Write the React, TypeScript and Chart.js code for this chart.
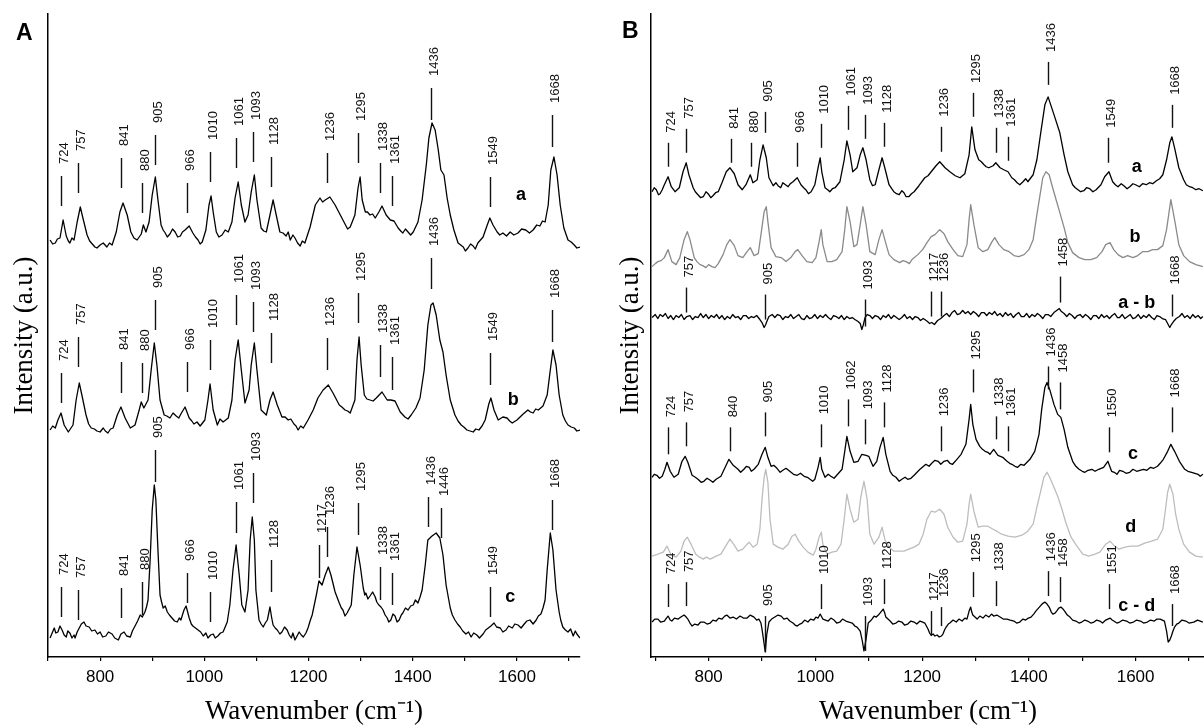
import React, { useEffect, useRef } from "react";
import { Chart, registerables } from "chart.js";
Chart.register(...registerables);

type Pt = [number, number];
type Peak = [string, number, number] | [string, number, number, number];
type Tag = [string, number, number];

// x-axis ticks (cm-1)
const majorTicks = [800, 1000, 1200, 1400, 1600];
const minorTicks = [700, 800, 900, 1000, 1100, 1200, 1300, 1400, 1500, 1600, 1700];

// ---------- Panel A spectra [wavenumber, intensity] ----------
const specA_a: Pt[] = [[704,417],[709,413],[714,414],[718,418],[723,419],[729,437],[735,421],[739,416],[742,414],[746,419],[750,417],[756,435],[762,450],[767,439],[775,422],[780,416],[785,413],[790,410],[794,409],[800,412],[806,414],[813,410],[818,414],[823,412],[831,425],[838,445],[844,454],[852,442],[859,425],[865,419],[871,417],[879,423],[883,432],[888,425],[894,435],[900,462],[906,480],[911,457],[917,432],[921,427],[925,424],[929,420],[934,423],[939,428],[944,425],[949,420],[954,421],[958,425],[963,427],[971,431],[978,424],[983,420],[988,417],[992,413],[996,415],[1003,427],[1009,452],[1013,461],[1017,445],[1023,425],[1028,420],[1034,422],[1040,427],[1046,425],[1053,435],[1059,459],[1065,475],[1071,452],[1078,435],[1084,442],[1090,465],[1096,482],[1101,457],[1109,429],[1114,426],[1119,425],[1126,442],[1132,457],[1138,442],[1145,425],[1151,424],[1157,421],[1161,425],[1165,417],[1170,422],[1174,419],[1179,414],[1184,411],[1188,416],[1193,414],[1203,430],[1213,452],[1222,459],[1227,455],[1232,457],[1241,460],[1251,452],[1261,442],[1266,437],[1270,433],[1275,428],[1280,430],[1289,442],[1295,469],[1299,480],[1303,457],[1309,445],[1313,445],[1318,442],[1323,443],[1328,439],[1335,445],[1341,451],[1349,442],[1357,437],[1364,436],[1372,429],[1377,426],[1381,424],[1386,428],[1391,425],[1396,422],[1401,425],[1410,435],[1418,457],[1426,492],[1431,519],[1437,534],[1443,527],[1449,507],[1454,487],[1460,482],[1466,459],[1472,442],[1479,427],[1487,414],[1492,412],[1497,410],[1501,406],[1506,409],[1511,413],[1516,411],[1520,408],[1525,414],[1535,420],[1543,432],[1548,439],[1554,432],[1562,425],[1567,422],[1573,424],[1580,421],[1587,425],[1594,422],[1602,424],[1609,428],[1617,427],[1624,424],[1631,427],[1638,432],[1644,431],[1649,436],[1654,435],[1660,452],[1665,487],[1671,500],[1677,482],[1683,452],[1690,429],[1698,417],[1704,415],[1710,412],[1715,409],[1721,410]];

const specA_b: Pt[] = [[704,227],[709,231],[714,229],[719,237],[725,244],[731,232],[739,225],[748,232],[754,257],[760,274],[765,262],[773,242],[778,233],[783,229],[789,228],[794,226],[800,225],[806,229],[810,226],[815,224],[820,228],[825,229],[833,242],[840,250],[848,239],[858,229],[867,232],[875,247],[879,255],[884,249],[892,257],[898,287],[904,314],[909,292],[915,257],[923,242],[928,241],[934,239],[940,244],[946,241],[951,239],[955,243],[963,250],[971,239],[976,236],[980,233],[986,235],[992,231],[1001,237],[1007,257],[1011,273],[1017,247],[1025,232],[1030,238],[1036,235],[1046,239],[1053,257],[1059,297],[1065,317],[1071,287],[1078,254],[1086,267],[1090,292],[1096,314],[1101,287],[1109,247],[1119,242],[1126,257],[1132,265],[1140,252],[1149,240],[1155,240],[1161,237],[1166,238],[1172,233],[1176,231],[1180,227],[1185,231],[1190,229],[1199,237],[1209,247],[1218,259],[1228,267],[1238,272],[1247,264],[1253,258],[1259,252],[1264,250],[1270,247],[1275,246],[1280,244],[1289,257],[1293,297],[1297,320],[1301,292],[1307,262],[1312,258],[1318,257],[1324,256],[1330,259],[1341,265],[1351,257],[1358,257],[1366,256],[1376,245],[1385,240],[1391,238],[1397,242],[1406,249],[1414,259],[1422,287],[1429,332],[1435,352],[1439,354],[1445,342],[1452,317],[1458,305],[1464,282],[1472,257],[1481,242],[1487,236],[1493,232],[1498,230],[1504,227],[1510,226],[1516,225],[1521,228],[1527,227],[1533,231],[1539,237],[1546,253],[1550,259],[1556,247],[1564,237],[1573,240],[1581,239],[1586,236],[1591,234],[1600,237],[1606,240],[1612,243],[1621,247],[1626,245],[1631,244],[1636,248],[1641,247],[1650,251],[1658,262],[1664,287],[1669,307],[1675,292],[1681,262],[1688,242],[1693,236],[1698,232],[1704,230],[1710,229],[1715,226],[1721,227]];

const specA_c: Pt[] = [[704,19],[708,24],[712,29],[715,24],[719,25],[723,31],[727,27],[731,22],[735,20],[738,26],[742,24],[746,19],[750,22],[752,19],[756,25],[760,29],[764,33],[769,35],[773,31],[779,30],[784,26],[790,27],[795,23],[800,25],[805,20],[811,21],[816,25],[823,23],[828,19],[835,17],[840,23],[846,25],[851,21],[858,20],[862,26],[867,31],[872,36],[877,42],[881,40],[886,45],[889,50],[892,57],[896,97],[900,147],[904,172],[907,157],[911,107],[915,62],[918,55],[921,49],[925,51],[929,45],[933,42],[938,39],[943,36],[948,35],[952,39],[955,37],[958,42],[961,47],[965,51],[968,45],[971,39],[975,33],[978,31],[983,29],[988,27],[993,25],[998,21],[1003,24],[1007,19],[1012,22],[1017,23],[1021,19],[1026,21],[1031,24],[1036,25],[1040,30],[1044,35],[1049,52],[1055,87],[1061,112],[1067,82],[1072,52],[1078,45],[1084,67],[1088,117],[1092,140],[1096,117],[1099,67],[1105,37],[1109,33],[1113,30],[1117,34],[1121,37],[1126,50],[1129,40],[1132,32],[1136,29],[1140,27],[1145,23],[1149,25],[1154,30],[1159,27],[1163,22],[1167,19],[1170,24],[1174,17],[1178,21],[1182,25],[1186,22],[1190,20],[1195,24],[1199,29],[1203,36],[1207,42],[1215,62],[1220,76],[1226,72],[1232,82],[1238,90],[1243,82],[1251,65],[1259,54],[1263,49],[1266,47],[1270,41],[1274,44],[1278,48],[1282,52],[1287,82],[1293,110],[1299,92],[1305,69],[1308,62],[1310,64],[1314,58],[1318,61],[1323,65],[1328,60],[1331,55],[1335,52],[1339,50],[1343,47],[1347,42],[1351,39],[1354,35],[1358,37],[1362,43],[1366,41],[1370,35],[1374,37],[1378,42],[1381,44],[1386,49],[1391,47],[1396,51],[1401,52],[1405,57],[1410,54],[1414,60],[1418,67],[1424,92],[1429,117],[1437,121],[1445,124],[1452,119],[1458,102],[1464,72],[1472,49],[1476,42],[1481,37],[1486,33],[1491,30],[1496,26],[1502,23],[1507,25],[1512,20],[1517,24],[1523,22],[1528,19],[1535,23],[1540,27],[1545,29],[1550,31],[1556,34],[1561,30],[1568,29],[1573,25],[1579,27],[1584,31],[1591,29],[1596,33],[1602,32],[1608,29],[1614,33],[1619,36],[1625,37],[1631,33],[1637,37],[1641,41],[1646,43],[1650,49],[1654,57],[1658,87],[1664,124],[1669,107],[1675,67],[1681,45],[1684,37],[1688,30],[1693,27],[1698,25],[1703,28],[1708,21],[1712,26],[1715,23],[1721,19]];

// ---------- Panel B spectra ----------
const specB_a: Pt[] = [[694,466],[698,470],[702,468],[706,463],[709,464],[713,468],[717,473],[724,481],[730,471],[737,466],[745,470],[752,486],[758,495],[763,483],[771,470],[775,466],[780,463],[785,460],[790,461],[795,466],[799,464],[804,460],[808,462],[813,465],[818,466],[825,475],[833,486],[840,490],[848,484],[855,473],[863,468],[870,473],[878,483],[883,475],[891,478],[896,498],[902,513],[908,500],[913,480],[921,472],[926,475],[930,472],[935,470],[939,475],[944,473],[949,471],[953,474],[958,476],[966,480],[973,473],[978,470],[982,468],[987,464],[992,466],[999,473],[1005,490],[1009,500],[1012,486],[1018,470],[1023,468],[1027,466],[1032,469],[1037,470],[1046,476],[1054,498],[1059,517],[1065,503],[1070,486],[1078,490],[1084,503],[1089,510],[1095,498],[1102,478],[1107,472],[1112,473],[1119,488],[1125,500],[1130,490],[1138,473],[1143,469],[1147,466],[1152,464],[1157,463],[1162,467],[1166,465],[1170,461],[1175,461],[1180,464],[1185,466],[1194,472],[1205,480],[1211,482],[1217,486],[1226,492],[1233,496],[1238,493],[1243,490],[1252,486],[1257,484],[1262,482],[1271,480],[1280,484],[1288,503],[1293,531],[1299,508],[1306,498],[1311,496],[1316,493],[1320,491],[1325,490],[1333,492],[1338,495],[1346,490],[1353,488],[1361,486],[1368,480],[1373,478],[1378,475],[1383,473],[1389,476],[1394,479],[1398,476],[1408,483],[1415,498],[1423,528],[1430,553],[1436,561],[1441,553],[1449,540],[1458,525],[1466,503],[1473,486],[1482,473],[1487,470],[1492,468],[1497,466],[1503,467],[1508,470],[1514,469],[1520,466],[1526,468],[1535,473],[1542,481],[1550,486],[1557,476],[1562,473],[1567,471],[1573,474],[1578,472],[1584,469],[1589,471],[1595,474],[1600,473],[1607,471],[1613,474],[1620,473],[1626,475],[1632,474],[1639,477],[1645,479],[1651,483],[1658,498],[1664,515],[1668,521],[1673,510],[1681,490],[1690,478],[1695,473],[1701,471],[1707,470],[1713,468],[1719,469],[1726,467]];

const specB_b: Pt[] = [[694,391],[700,394],[705,396],[711,397],[717,400],[724,408],[731,396],[739,393],[746,400],[754,418],[760,426],[765,418],[773,400],[778,396],[784,393],[789,392],[795,390],[800,393],[806,391],[812,390],[818,394],[827,403],[834,413],[840,418],[848,412],[855,402],[864,400],[872,406],[878,410],[885,402],[893,404],[898,423],[904,446],[908,451],[911,436],[917,410],[926,401],[936,400],[945,396],[954,400],[962,406],[967,408],[975,402],[984,396],[994,395],[1001,400],[1007,416],[1011,428],[1014,413],[1022,396],[1031,396],[1040,398],[1050,406],[1055,428],[1059,451],[1065,436],[1072,411],[1078,413],[1084,433],[1089,451],[1095,433],[1102,406],[1112,403],[1119,418],[1125,428],[1130,418],[1138,403],[1147,398],[1158,395],[1164,397],[1170,396],[1176,394],[1181,398],[1192,403],[1201,408],[1209,415],[1217,421],[1224,423],[1233,428],[1241,424],[1248,416],[1258,408],[1267,402],[1276,401],[1284,413],[1288,438],[1291,453],[1297,433],[1305,410],[1314,406],[1323,408],[1331,416],[1336,420],[1344,413],[1353,408],[1363,406],[1372,402],[1381,401],[1391,403],[1400,408],[1408,418],[1415,443],[1421,463],[1426,480],[1432,486],[1438,483],[1443,473],[1451,458],[1458,445],[1466,430],[1473,415],[1482,405],[1494,400],[1505,398],[1516,398],[1527,400],[1537,406],[1544,413],[1552,415],[1559,408],[1567,403],[1576,400],[1585,402],[1595,400],[1604,402],[1613,406],[1623,406],[1632,408],[1641,408],[1651,412],[1658,428],[1666,458],[1673,438],[1681,413],[1690,402],[1701,396],[1713,393],[1726,391]];

const specB_ab: Pt[] = [[694,340],[700,343],[705,339],[709,343],[714,341],[719,344],[724,339],[729,342],[734,338],[739,342],[744,340],[749,343],[754,338],[759,341],[765,342],[770,338],[775,341],[780,340],[785,344],[790,340],[795,343],[800,339],[805,342],[810,340],[815,343],[820,339],[825,342],[830,338],[835,341],[840,339],[845,343],[850,340],[855,341],[860,338],[865,342],[870,342],[875,339],[880,341],[885,340],[890,342],[896,338],[900,335],[904,330],[907,333],[909,336],[913,341],[919,343],[924,340],[929,343],[934,342],[939,338],[944,341],[949,340],[954,343],[959,339],[964,341],[969,343],[974,339],[979,338],[984,342],[989,339],[994,340],[999,343],[1004,339],[1009,342],[1014,340],[1019,343],[1024,340],[1029,338],[1034,342],[1039,341],[1044,339],[1049,342],[1054,338],[1059,341],[1064,339],[1069,340],[1074,338],[1080,336],[1084,334],[1087,328],[1090,333],[1093,340],[1097,343],[1102,342],[1107,339],[1112,342],[1117,341],[1122,338],[1127,342],[1132,340],[1137,343],[1142,339],[1147,342],[1152,340],[1157,338],[1162,340],[1167,343],[1172,339],[1177,341],[1182,338],[1187,341],[1192,340],[1197,337],[1202,339],[1205,338],[1210,336],[1214,334],[1218,335],[1223,333],[1229,337],[1235,339],[1241,342],[1246,344],[1251,341],[1256,345],[1261,347],[1266,343],[1271,344],[1276,347],[1281,344],[1286,346],[1291,343],[1296,346],[1301,344],[1306,341],[1311,345],[1316,345],[1321,342],[1326,345],[1331,343],[1336,346],[1341,342],[1346,344],[1351,341],[1356,345],[1361,342],[1366,344],[1371,340],[1376,343],[1381,345],[1386,341],[1391,341],[1396,344],[1401,340],[1406,343],[1411,341],[1416,344],[1421,342],[1426,339],[1431,343],[1436,343],[1441,341],[1447,345],[1452,347],[1457,349],[1461,346],[1466,344],[1471,341],[1476,344],[1481,342],[1486,339],[1491,342],[1496,343],[1501,340],[1506,343],[1511,341],[1516,338],[1521,342],[1526,342],[1531,339],[1536,343],[1541,340],[1546,342],[1551,339],[1556,342],[1561,344],[1566,340],[1570,340],[1575,343],[1580,339],[1585,341],[1590,343],[1595,339],[1600,340],[1605,343],[1610,339],[1615,342],[1620,340],[1625,343],[1630,340],[1635,338],[1640,342],[1645,341],[1650,339],[1656,338],[1660,334],[1664,330],[1667,333],[1671,336],[1676,339],[1682,341],[1687,344],[1692,340],[1697,342],[1702,339],[1707,343],[1712,340],[1717,342],[1722,339],[1726,341]];

const specB_c: Pt[] = [[694,180],[698,183],[703,182],[708,179],[713,181],[718,188],[722,195],[728,186],[735,180],[743,183],[750,196],[756,201],[761,195],[769,182],[775,180],[780,178],[786,175],[791,176],[797,179],[803,177],[808,175],[814,178],[823,181],[831,190],[838,198],[846,192],[855,188],[860,185],[866,188],[871,191],[876,190],[880,186],[885,188],[893,193],[900,203],[906,210],[911,200],[917,191],[922,192],[928,189],[934,185],[939,187],[945,189],[952,186],[959,183],[966,182],[972,184],[979,181],[985,180],[990,178],[995,176],[999,178],[1005,190],[1009,200],[1012,188],[1018,180],[1024,183],[1029,181],[1035,179],[1040,182],[1050,188],[1055,206],[1059,221],[1065,206],[1072,195],[1080,196],[1087,203],[1095,202],[1100,201],[1108,191],[1115,196],[1121,210],[1127,220],[1132,203],[1140,186],[1145,182],[1151,180],[1157,176],[1162,178],[1168,180],[1173,178],[1179,179],[1185,182],[1196,188],[1207,193],[1213,191],[1218,194],[1224,197],[1230,196],[1235,193],[1241,196],[1247,197],[1252,194],[1257,193],[1262,196],[1273,203],[1282,213],[1288,238],[1291,253],[1295,233],[1301,218],[1308,211],[1313,208],[1318,206],[1323,205],[1327,203],[1334,208],[1342,202],[1351,200],[1359,196],[1364,194],[1368,193],[1374,191],[1379,190],[1385,193],[1391,192],[1402,198],[1411,206],[1419,223],[1424,248],[1430,270],[1434,275],[1439,268],[1447,253],[1454,243],[1460,240],[1466,228],[1473,210],[1482,196],[1488,191],[1494,188],[1500,186],[1505,185],[1511,187],[1518,188],[1524,186],[1531,188],[1540,190],[1548,196],[1555,186],[1560,185],[1565,183],[1570,187],[1576,186],[1582,184],[1589,185],[1595,188],[1602,186],[1608,187],[1615,188],[1621,187],[1628,190],[1634,189],[1641,191],[1646,194],[1652,198],[1660,206],[1666,213],[1673,206],[1682,196],[1692,188],[1698,186],[1705,185],[1711,184],[1717,183],[1721,181],[1726,183]];

const specB_d: Pt[] = [[694,101],[705,103],[715,105],[722,111],[730,102],[739,100],[748,106],[754,116],[760,120],[767,113],[776,103],[783,100],[790,98],[796,100],[803,98],[814,101],[823,103],[833,112],[840,118],[848,112],[855,106],[864,108],[872,113],[876,115],[883,110],[891,113],[896,128],[900,158],[904,180],[907,188],[911,175],[915,138],[921,113],[930,110],[939,108],[949,113],[956,121],[962,123],[969,116],[977,110],[986,105],[996,102],[1001,108],[1007,120],[1011,125],[1014,113],[1022,103],[1031,105],[1040,106],[1048,113],[1054,138],[1059,163],[1065,148],[1072,135],[1080,138],[1085,160],[1091,176],[1097,158],[1102,123],[1110,113],[1119,120],[1125,130],[1130,118],[1138,110],[1147,106],[1157,106],[1166,106],[1175,108],[1185,110],[1194,113],[1202,123],[1209,138],[1217,146],[1224,145],[1233,148],[1241,143],[1248,130],[1258,120],[1267,115],[1276,116],[1284,133],[1288,153],[1291,163],[1297,146],[1305,130],[1314,131],[1323,131],[1333,128],[1340,126],[1349,123],[1361,121],[1374,120],[1387,122],[1398,126],[1408,133],[1415,150],[1423,168],[1428,180],[1434,185],[1439,180],[1447,170],[1454,161],[1462,148],[1469,135],[1479,120],[1490,111],[1501,103],[1512,101],[1524,103],[1533,105],[1544,113],[1552,116],[1559,112],[1569,108],[1580,110],[1591,111],[1604,111],[1617,114],[1630,116],[1641,118],[1651,128],[1656,148],[1660,165],[1664,173],[1670,163],[1675,143],[1681,128],[1690,113],[1701,105],[1713,101],[1726,100]];

const specB_cd: Pt[] = [[694,35],[699,38],[705,38],[710,35],[717,36],[721,39],[724,41],[728,37],[731,36],[736,39],[743,38],[748,40],[754,42],[758,40],[761,38],[765,34],[769,31],[774,33],[780,32],[785,35],[791,35],[797,33],[803,34],[808,37],[814,36],[819,39],[825,38],[830,41],[834,42],[840,39],[846,40],[852,38],[859,41],[865,39],[872,39],[878,42],[885,40],[890,37],[894,38],[898,34],[900,28],[904,13],[906,5],[909,23],[913,35],[918,38],[924,40],[930,42],[936,41],[941,38],[947,39],[952,36],[958,34],[962,32],[966,31],[971,33],[975,34],[980,37],[986,35],[991,38],[997,37],[1001,40],[1005,39],[1009,43],[1012,40],[1014,38],[1019,37],[1024,36],[1029,39],[1035,37],[1040,34],[1046,35],[1051,38],[1057,36],[1063,35],[1069,34],[1074,31],[1078,30],[1084,26],[1088,16],[1091,6],[1095,18],[1099,34],[1103,36],[1106,38],[1110,41],[1114,40],[1118,42],[1121,44],[1124,46],[1127,48],[1130,44],[1132,40],[1136,38],[1140,36],[1145,33],[1151,34],[1156,36],[1162,35],[1167,32],[1173,33],[1179,36],[1185,35],[1190,33],[1196,36],[1201,35],[1205,34],[1208,31],[1211,28],[1214,24],[1217,22],[1221,23],[1224,21],[1228,22],[1232,20],[1236,21],[1239,23],[1242,27],[1245,30],[1249,33],[1252,34],[1258,37],[1264,35],[1269,38],[1275,36],[1280,39],[1284,38],[1288,46],[1291,50],[1293,45],[1295,42],[1299,40],[1303,38],[1308,41],[1314,39],[1319,42],[1325,40],[1330,43],[1334,41],[1340,42],[1346,40],[1352,38],[1359,38],[1365,37],[1372,36],[1377,34],[1383,35],[1389,38],[1394,37],[1399,39],[1404,40],[1409,43],[1413,46],[1418,49],[1423,52],[1427,54],[1430,55],[1434,53],[1438,50],[1442,45],[1445,43],[1449,44],[1452,46],[1456,49],[1460,50],[1464,48],[1467,46],[1472,42],[1477,40],[1482,37],[1488,36],[1494,34],[1499,35],[1505,37],[1510,36],[1516,34],[1522,35],[1527,37],[1533,36],[1538,34],[1544,37],[1548,38],[1552,39],[1556,37],[1559,36],[1565,34],[1570,35],[1576,37],[1583,36],[1589,34],[1596,35],[1602,37],[1609,36],[1615,34],[1622,35],[1628,37],[1635,36],[1640,38],[1646,38],[1650,37],[1654,36],[1658,26],[1661,15],[1664,17],[1667,21],[1670,26],[1673,30],[1677,33],[1681,34],[1687,37],[1694,36],[1700,34],[1709,35],[1716,37],[1726,35]];

// ---------- Peak labels: [label, tick top, tick bottom, (tick wavenumber)] ----------
const peaksA_a: Peak[] = [["724",481,451],["757",494,464],["841",499,469],["880",474,444],["905",522,492],["966",474,444],["1010",505,475],["1061",519,489],["1093",525,495],["1128",500,470],["1236",504,474],["1295",524,494],["1338",494,464],["1361",481,451],["1436",569,537],["1549",480,450],["1668",542,510]];
const peaksA_b: Peak[] = [["724",284,254],["757",320,290],["841",295,264],["880",294,264],["905",357,327],["966",295,265],["1010",317,287],["1061",362,332],["1093",355,325],["1128",324,294],["1236",319,287],["1295",364,334],["1338",312,280],["1361",300,267],["1436",399,368],["1549",304,272],["1668",347,315]];
const peaksA_c: Peak[] = [["724",70,40],["757",67,37],["841",69,39],["880",75,42],["905",207,175],["966",84,54],["1010",65,35],["1061",155,124],["1093",184,154],["1128",97,65],["1217",112,79,1220],["1236",130,100],["1295",154,122],["1338",90,57],["1361",84,52],["1436",160,130,1430],["1446",149,119,1454],["1549",70,40],["1668",157,127]];

const peaksB_a: Peak[] = [["724",515,491],["757",529,505],["841",519,495],["880",515,491],["905",546,525],["966",515,491],["1010",534,510],["1061",552,528],["1093",543,519],["1128",535,511],["1236",531,506],["1295",565,541],["1338",530,505],["1361",521,497],["1436",596,573],["1549",520,495],["1668",553,530]];
const peaksB_ab: Peak[] = [["757",370,345],["905",363,338],["1093",358,331],["1217",366,341],["1236",366,341],["1458",381,355],["1668",363,341]];
const peaksB_c: Peak[] = [["724",230,203],["757",235,211],["840",230,206],["905",245,221],["1010",233,210],["1062",258,231],["1093",238,213],["1128",255,230],["1236",231,206],["1295",288,265],["1338",241,218],["1361",231,206],["1436",291,268],["1458",275,248],["1550",230,205],["1668",250,225]];
const peaksB_cd: Peak[] = [["724",73,50],["757",75,51],["905",41,5],["1010",73,48],["1093",41,6],["1128",78,53],["1217",46,21],["1236",50,31],["1295",85,60],["1338",76,51],["1436",86,61],["1458",80,55],["1551",73,48],["1668",53,31]];

// ---------- Spectrum tags: [text, wavenumber, intensity] ----------
const tagsA: Tag[] = [["a",1608,462],["b",1593,257],["c",1587,60]];
const tagsB: Tag[] = [["a",1602,491],["b",1599,421],["a - b",1602,355],["c",1595,203],["d",1591,130],["c - d",1602,51]];

const SANS = '"Liberation Sans", Arial, sans-serif';
const SERIF = '"Liberation Serif", "Times New Roman", serif';

const toXY = (arr: Pt[]) => arr.map(([x, y]) => ({ x, y }));

const overlay = {
  id: "overlay",
  afterDatasetsDraw(chart: any, _a: any, o: any) {
    const { ctx } = chart;
    const xs = chart.scales.x;
    const ys = chart.scales.y;
    ctx.save();
    ctx.fillStyle = "#111";
    ctx.strokeStyle = "#111";
    ctx.lineWidth = 1.4;
    ctx.font = `13px ${SANS}`;
    ctx.textAlign = "left";
    ctx.textBaseline = "middle";
    for (const pk of o.peaks as Peak[]) {
      const lab = pk[0];
      const wn = pk.length > 3 ? (pk as any)[3] : Number(lab);
      const x = Math.round(xs.getPixelForValue(wn)) + 0.5;
      const y1 = ys.getPixelForValue(pk[1]);
      const y2 = ys.getPixelForValue(pk[2]);
      ctx.beginPath();
      ctx.moveTo(x, y1);
      ctx.lineTo(x, y2);
      ctx.stroke();
      ctx.save();
      ctx.translate(x + 3, y1 - o.gap);
      ctx.rotate(-Math.PI / 2);
      ctx.fillText(lab, 0, 0);
      ctx.restore();
    }
    ctx.fillStyle = "#000";
    ctx.font = `bold 18px ${SANS}`;
    ctx.textAlign = "center";
    for (const [t, wn, v] of o.tags as Tag[]) {
      ctx.fillText(t, xs.getPixelForValue(wn), ys.getPixelForValue(v));
    }
    ctx.font = `bold 23px ${SANS}`;
    ctx.textAlign = "left";
    ctx.textBaseline = "alphabetic";
    ctx.fillText(o.panel, o.panelX, o.panelY);
    ctx.restore();
  },
};

function makeChart(canvas: HTMLCanvasElement, p: any) {
  return new Chart(canvas, {
    type: "line",
    data: {
      datasets: p.series.map((s: any) => ({
        data: toXY(s.data),
        borderColor: s.color,
        borderWidth: 1.3,
        pointRadius: 0,
        tension: 0,
        fill: false,
        borderJoinStyle: "round",
      })),
    },
    options: {
      responsive: false,
      maintainAspectRatio: false,
      animation: false,
      events: [],
      layout: { padding: { left: 0, right: p.padRight, top: 14, bottom: 0 } },
      plugins: {
        legend: { display: false },
        tooltip: { enabled: false },
        overlay: { peaks: p.peaks, tags: p.tags, gap: p.gap, panel: p.panel, panelX: p.panelX, panelY: p.panelY },
      } as any,
      scales: {
        x: {
          type: "linear",
          min: p.xMin,
          max: p.xMax,
          afterBuildTicks: (s: any) => {
            s.ticks = minorTicks.map((v) => ({ value: v }));
          },
          ticks: {
            autoSkip: false,
            maxRotation: 0,
            padding: 6,
            color: "#000",
            font: { family: SANS, size: 17 },
            callback: (v: any) => (majorTicks.includes(Number(v)) ? String(v) : ""),
          },
          grid: { drawOnChartArea: false, drawTicks: true, tickLength: 4, color: "#000", lineWidth: 1.2 },
          border: { display: true, color: "#000", width: 1.5 },
          title: {
            display: true,
            text: "Wavenumber (cm\u207B\u00B9)",
            color: "#000",
            font: { family: SERIF, size: 27 },
            padding: { top: 0, bottom: 0 },
          },
          afterFit: (s: any) => {
            s.height = 71;
            s.paddingLeft = 0;
            s.paddingRight = 0;
          },
        },
        y: {
          type: "linear",
          min: 0,
          max: p.yMax,
          ticks: { display: false },
          grid: { display: false },
          border: { display: true, color: "#000", width: 1.5 },
          title: {
            display: true,
            text: "Intensity (a.u.)",
            color: "#000",
            font: { family: SERIF, size: 27 },
            padding: { top: p.yTitlePad, bottom: 0 },
          },
          afterFit: (s: any) => {
            s.width = p.yWidth;
          },
        },
      },
    } as any,
    plugins: [overlay as any],
  });
}

export default function App() {
  const refA = useRef<HTMLCanvasElement>(null);
  const refB = useRef<HTMLCanvasElement>(null);

  useEffect(() => {
    document.body.style.overflow = "hidden";
    const a = makeChart(refA.current!, {
      series: [
        { data: specA_a, color: "#000" },
        { data: specA_b, color: "#000" },
        { data: specA_c, color: "#000" },
      ],
      peaks: [...peaksA_a, ...peaksA_b, ...peaksA_c],
      tags: tagsA,
      gap: 12,
      panel: "A",
      panelX: 16,
      panelY: 40,
      xMin: 700,
      xMax: 1721,
      yMax: 643,
      yWidth: 48,
      yTitlePad: 9,
      padRight: 20,
    });
    const b = makeChart(refB.current!, {
      series: [
        { data: specB_a, color: "#000" },
        { data: specB_ab, color: "#000" },
        { data: specB_c, color: "#000" },
        { data: specB_cd, color: "#000" },
        { data: specB_b, color: "#8a8a8a" },
        { data: specB_d, color: "#bdbdbd" },
      ],
      peaks: [...peaksB_a, ...peaksB_ab, ...peaksB_c, ...peaksB_cd],
      tags: tagsB,
      gap: 10,
      panel: "B",
      panelX: 22,
      panelY: 38,
      xMin: 692,
      xMax: 1730,
      yMax: 644,
      yWidth: 51,
      yTitlePad: 15,
      padRight: 1,
    });
    return () => {
      a.destroy();
      b.destroy();
    };
  }, []);

  return (
    <div style={{ position: "fixed", left: 0, top: 0, width: 1204, height: 728, overflow: "hidden", background: "#fff" }}>
      <canvas ref={refA} width={600} height={728} style={{ position: "absolute", left: 0, top: 0 }} />
      <canvas ref={refB} width={606} height={728} style={{ position: "absolute", left: 600, top: 0 }} />
    </div>
  );
}
